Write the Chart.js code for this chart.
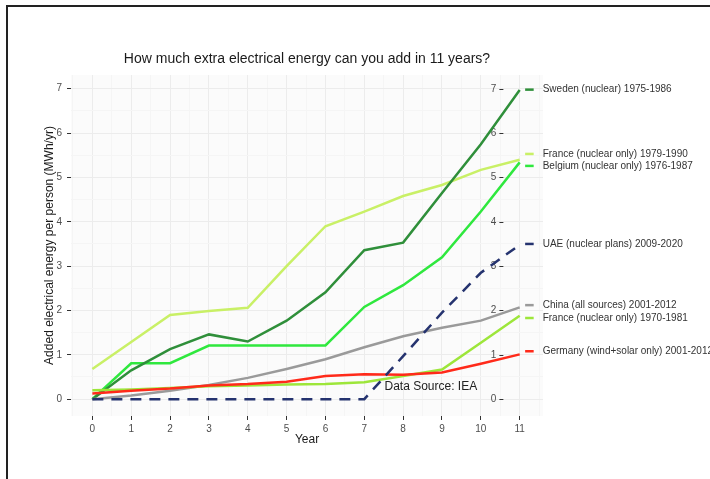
<!DOCTYPE html>
<html>
<head>
<meta charset="utf-8">
<script src="https://cdn.jsdelivr.net/npm/chart.js@4/dist/chart.umd.min.js"></script>
<style>
  body { margin: 0; background: #fff; }
  #wrap { width: 710px; height: 479px; position: relative; overflow: hidden; }
</style>
</head>
<body>
<div id="wrap"><canvas id="energyChart" width="710" height="479"></canvas></div>
<script>
// years since start of each 11 year run
const years = [0, 1, 2, 3, 4, 5, 6, 7, 8, 9, 10, 11];

// added electrical energy per person (MWh/yr)
const sweden = [0, 0.65, 1.13, 1.46, 1.3, 1.77, 2.41, 3.36, 3.53, 4.65, 5.75, 6.97];
const france1979 = [0.68, 1.29, 1.9, 1.99, 2.06, 3.0, 3.9, 4.23, 4.58, 4.83, 5.17, 5.4];
const belgium = [0, 0.81, 0.81, 1.21, 1.21, 1.21, 1.21, 2.08, 2.57, 3.2, 4.23, 5.34];
const uae = [0, 0, 0, 0, 0, 0, 0, 0, 0.97, 1.95, 2.85, 3.48];
const china = [0, 0.08, 0.19, 0.32, 0.48, 0.68, 0.9, 1.17, 1.42, 1.61, 1.77, 2.07];
const france1970 = [0.2, 0.22, 0.25, 0.29, 0.31, 0.33, 0.34, 0.38, 0.52, 0.67, 1.27, 1.88];
const germany = [0.13, 0.19, 0.24, 0.31, 0.34, 0.39, 0.52, 0.56, 0.55, 0.6, 0.8, 1.01];

const seriesNames = [
  "Sweden (nuclear) 1975-1986",
  "France (nuclear only) 1979-1990",
  "Belgium (nuclear only) 1976-1987",
  "UAE (nuclear plans) 2009-2020",
  "China (all sources) 2001-2012",
  "France (nuclear only) 1970-1981",
  "Germany (wind+solar only) 2001-2012"
];
// where each end label sits (y value), nudged apart like in the original
const labelY = [6.98, 5.53, 5.26, 3.5, 2.12, 1.83, 1.08];

const yTicks = [0, 1, 2, 3, 4, 5, 6, 7];

const FONT = "'Liberation Sans', Arial, sans-serif";

const toPoints = (arr) => years.map((x, i) => ({ x, y: arr[i] }));

function halfSteps(from, to) {
  const out = [];
  for (let v = from * 2; v <= to * 2; v++) out.push({ value: v / 2 });
  return out;
}

// panel background, title, frame, right inner axis and end labels
const decorations = {
  id: "decorations",
  beforeDraw(chart) {
    const { ctx, chartArea: a } = chart;
    ctx.save();
    ctx.fillStyle = "#fbfbfb";
    ctx.fillRect(a.left, a.top, a.right - a.left, a.bottom - a.top);
    ctx.restore();
  },
  beforeDatasetsDraw(chart) {
    const { ctx, scales } = chart;
    const ax = scales.x.getPixelForValue(10.58);
    ctx.save();
    ctx.strokeStyle = "#333";
    ctx.lineWidth = 1;
    ctx.fillStyle = "#4d4d4d";
    ctx.font = "10px " + FONT;
    ctx.textAlign = "right";
    ctx.textBaseline = "middle";
    yTicks.forEach((v) => {
      const py = Math.round(scales.y.getPixelForValue(v)) + 0.5;
      ctx.beginPath();
      ctx.moveTo(ax - 4, py);
      ctx.lineTo(ax, py);
      ctx.stroke();
      ctx.fillText(String(v), ax - 7, py);
    });
    ctx.restore();
  },
  afterDraw(chart) {
    const { ctx, chartArea: a, scales } = chart;
    ctx.save();
    // title
    ctx.fillStyle = "#1a1a1a";
    ctx.font = "14px " + FONT;
    ctx.textAlign = "center";
    ctx.textBaseline = "middle";
    ctx.fillText("How much extra electrical energy can you add in 11 years?", (a.left + a.right) / 2, 59);

    // data source note
    ctx.fillStyle = "#222";
    ctx.font = "12px " + FONT;
    ctx.textAlign = "left";
    ctx.fillText("Data Source: IEA", scales.x.getPixelForValue(7.52), scales.y.getPixelForValue(0.27));

    // end labels
    ctx.font = "10px " + FONT;
    const x1 = scales.x.getPixelForValue(11.14);
    const x2 = scales.x.getPixelForValue(11.36);
    chart.data.datasets.forEach((ds) => {
      const i = ds.labelIndex;
      const py = scales.y.getPixelForValue(labelY[i]);
      ctx.strokeStyle = ds.borderColor;
      ctx.lineWidth = 2.5;
      ctx.setLineDash([]);
      ctx.beginPath();
      ctx.moveTo(x1, py);
      ctx.lineTo(x2, py);
      ctx.stroke();
      ctx.fillStyle = "#333";
      ctx.fillText(seriesNames[i], x2 + 9, py);
    });

    // frame
    ctx.strokeStyle = "#222";
    ctx.lineWidth = 2;
    ctx.beginPath();
    ctx.moveTo(7, 479);
    ctx.lineTo(7, 6);
    ctx.lineTo(710, 6);
    ctx.stroke();
    ctx.restore();
  }
};

const isMajor = (c) => c.tick && Number.isInteger(c.tick.value);

function makeSet(arr, idx, color, dashed) {
  return {
    data: toPoints(arr),
    labelIndex: idx,
    borderColor: color,
    backgroundColor: color,
    borderWidth: 2.5,
    borderDash: dashed ? [11, 8] : [],
    pointRadius: 0,
    tension: 0,
    fill: false
  };
}

// first dataset is painted on top
const datasets = [
  makeSet(uae, 3, "#25336f", true),
  makeSet(germany, 6, "#ff2a1a", false),
  makeSet(france1970, 5, "#9de63a", false),
  makeSet(china, 4, "#9a9a9a", false),
  makeSet(sweden, 0, "#2f8f3a", false),
  makeSet(belgium, 2, "#2fe83e", false),
  makeSet(france1979, 1, "#c9f066", false)
];

new Chart(document.getElementById("energyChart"), {
  type: "line",
  data: { datasets },
  plugins: [decorations],
  options: {
    responsive: false,
    animation: false,
    devicePixelRatio: 1,
    layout: { padding: { top: 75, right: 167, left: 0, bottom: 0 } },
    plugins: { legend: { display: false }, title: { display: false }, tooltip: { enabled: false } },
    scales: {
      x: {
        type: "linear",
        min: -0.55,
        max: 11.6,
        afterBuildTicks: (s) => { s.ticks = halfSteps(-0.5, 11.5); },
        afterFit: (s) => { s.height = 63; },
        border: { display: false },
        grid: {
          color: (c) => (isMajor(c) ? "#ececec" : "#f5f5f5"),
          tickColor: (c) => (isMajor(c) ? "#333" : "rgba(0,0,0,0)"),
          tickLength: 4,
          lineWidth: 1
        },
        ticks: {
          autoSkip: false,
          maxRotation: 0,
          padding: 3,
          color: "#4d4d4d",
          font: { family: FONT, size: 10 },
          callback: (v) => (Number.isInteger(v) ? String(v) : "")
        },
        title: {
          display: true,
          text: "Year",
          color: "#1a1a1a",
          font: { family: FONT, size: 12 },
          padding: { top: 0, bottom: 32 }
        }
      },
      y: {
        type: "linear",
        min: -0.38,
        max: 7.31,
        afterBuildTicks: (s) => { s.ticks = halfSteps(-0.5, 7).filter((t) => t.value >= -0.38); },
        afterFit: (s) => { s.width = 71; },
        border: { display: false },
        grid: {
          color: (c) => (isMajor(c) ? "#ececec" : "#f5f5f5"),
          tickColor: (c) => (isMajor(c) ? "#333" : "rgba(0,0,0,0)"),
          tickLength: 4,
          lineWidth: 1
        },
        ticks: {
          autoSkip: false,
          padding: 5,
          color: "#4d4d4d",
          font: { family: FONT, size: 10 },
          callback: (v) => (Number.isInteger(v) ? String(v) : "")
        },
        title: {
          display: true,
          text: "Added electrical energy per person (MWh/yr)",
          color: "#1a1a1a",
          font: { family: FONT, size: 12 },
          padding: { top: 42, bottom: 0 }
        }
      }
    }
  }
});
</script>
</body>
</html>
